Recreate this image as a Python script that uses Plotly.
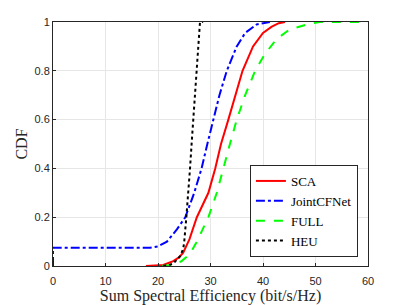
import plotly.graph_objects as go

sca_x = [17.7, 19.5, 21.0, 22.9, 24.0, 24.8, 26.0, 27.4, 28.5, 29.6, 30.9, 32.0, 33.4, 34.7, 36.1, 38.1, 40.0, 41.6, 43.0, 44.2]
sca_y = [0.0, 0.001, 0.004, 0.02, 0.035, 0.055, 0.11, 0.2, 0.25, 0.3, 0.4, 0.5, 0.6, 0.7, 0.8, 0.9, 0.955, 0.98, 0.995, 1.0]

jcf_x = [0.0, 0.0, 5.0, 10.0, 15.0, 18.5, 20.0, 21.7, 23.6, 25.2, 26.9, 28.3, 29.4, 30.5, 31.7, 33.1, 35.0, 36.6, 38.8, 41.3]
jcf_y = [0.0, 0.075, 0.075, 0.075, 0.075, 0.075, 0.08, 0.1, 0.15, 0.2, 0.3, 0.4, 0.5, 0.6, 0.7, 0.8, 0.9, 0.955, 0.99, 1.0]

full_x = [20.8, 22.0, 22.9, 24.5, 26.1, 27.4, 29.6, 31.2, 32.4, 33.7, 35.0, 36.6, 38.5, 40.4, 42.6, 45.1, 48.9, 50.8, 55.0, 60.0]
full_y = [0.0, 0.002, 0.005, 0.02, 0.05, 0.1, 0.2, 0.3, 0.4, 0.5, 0.6, 0.7, 0.8, 0.87, 0.93, 0.97, 0.993, 1.0, 1.0, 1.0]

heu_x = [21.0, 22.0, 22.9, 24.2, 24.8, 25.0, 25.4, 25.8, 26.1, 26.4, 26.7, 27.1, 27.4, 27.7, 28.0, 28.6]
heu_y = [0.0, 0.003, 0.01, 0.04, 0.07, 0.1, 0.2, 0.3, 0.4, 0.5, 0.6, 0.7, 0.8, 0.9, 1.0, 1.0]

x_ticks = [0, 10, 20, 30, 40, 50, 60]
y_ticks = [0, 0.2, 0.4, 0.6, 0.8, 1]
y_tick_labels = ["0", "0.2", "0.4", "0.6", "0.8", "1"]

fig = go.Figure()
fig.add_trace(go.Scatter(x=sca_x, y=sca_y, mode="lines", name="SCA",
                         line=dict(color="#ff0000", width=2, dash="solid")))
fig.add_trace(go.Scatter(x=jcf_x, y=jcf_y, mode="lines", name="JointCFNet",
                         line=dict(color="#0000ff", width=2, dash="dashdot")))
fig.add_trace(go.Scatter(x=full_x, y=full_y, mode="lines", name="FULL",
                         line=dict(color="#00ff00", width=2, dash="dash")))
fig.add_trace(go.Scatter(x=heu_x, y=heu_y, mode="lines", name="HEU",
                         line=dict(color="#000000", width=2, dash="dot")))

serif = "Liberation Serif, DejaVu Serif, serif"

axis_common = dict(
    showgrid=True, gridcolor="#e6e6e6", gridwidth=1,
    showline=True, linecolor="#262626", linewidth=1, mirror=True,
    ticks="inside", ticklen=3, tickcolor="#262626",
    zeroline=False, automargin=False,
    tickfont=dict(family="Liberation Sans, Arial, sans-serif", size=11, color="#262626"),
)

fig.update_xaxes(range=[0, 60], tickvals=x_ticks, ticktext=[str(v) for v in x_ticks],
                 ticklabelstandoff=5,
                 title=dict(text="Sum Spectral Efficiency (bit/s/Hz)", standoff=0,
                            font=dict(family=serif, size=16, color="#262626")),
                 **axis_common)
fig.update_yaxes(range=[0, 1], tickvals=y_ticks, ticktext=y_tick_labels,
                 title=dict(text="CDF", standoff=2,
                            font=dict(family=serif, size=16, color="#262626")),
                 **axis_common)

fig.update_layout(
    width=407, height=305,
    margin=dict(l=53, r=39, t=22, b=39),
    paper_bgcolor="white", plot_bgcolor="white",
    legend=dict(x=0.968, y=0.037, xanchor="right", yanchor="bottom",
                bgcolor="white", bordercolor="#262626", borderwidth=1,
                font=dict(family=serif, size=13, color="#000000"),
                tracegroupgap=0, itemwidth=30),
    showlegend=True,
)

fig.write_html("out.html", config={"displayModeBar": False},
               post_script="document.body.style.margin='0';document.body.style.overflow='hidden';")
